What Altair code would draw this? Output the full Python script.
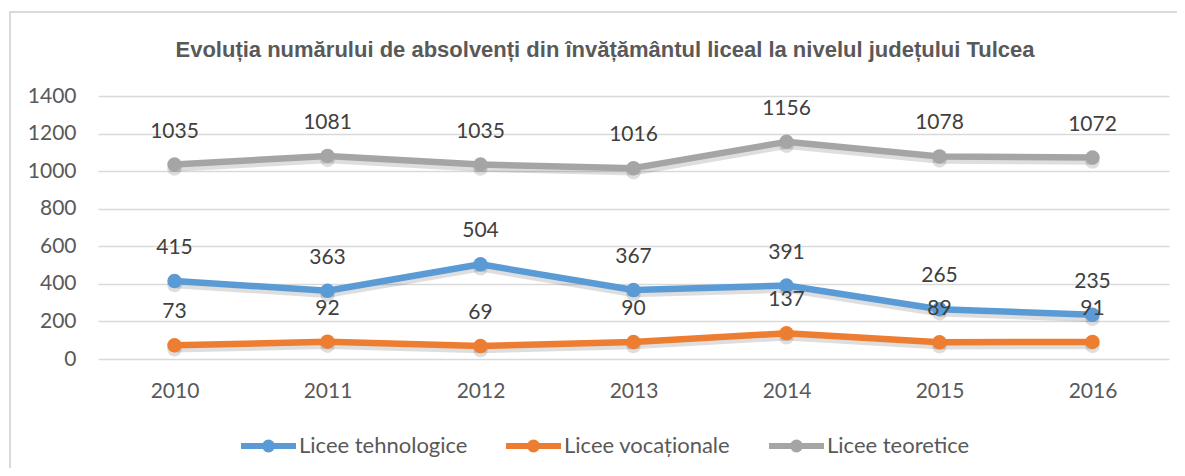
import altair as alt
import pandas as pd

years = ["2010", "2011", "2012", "2013", "2014", "2015", "2016"]
series = ["Licee tehnologice", "Licee vocaționale", "Licee teoretice"]
tehnologice = [415, 363, 504, 367, 391, 265, 235]
vocationale = [73, 92, 69, 90, 137, 89, 91]
teoretice = [1035, 1081, 1035, 1016, 1156, 1078, 1072]
colors = ["#5B9BD5", "#ED7D31", "#A5A5A5"]
title = "Evoluția numărului de absolvenți din învățământul liceal la nivelul județului Tulcea"

rows = []
for name, vals in zip(series, [tehnologice, vocationale, teoretice]):
    for y, v in zip(years, vals):
        rows.append({"an": y, "serie": name, "val": v})
df = pd.DataFrame(rows)
tdf = pd.DataFrame({"t": [title]})

FONT = "Lato"
GRAY = "#595959"

x_enc = alt.X("an:N", sort=years, title=None,
              scale=alt.Scale(type="point", padding=0.5),
              axis=alt.Axis(labelAngle=0, domain=False, ticks=False, grid=False,
                            labelFont=FONT, labelFontSize=21, labelColor=GRAY,
                            labelPadding=21))
y_enc = alt.Y("val:Q", title=None,
              scale=alt.Scale(domain=[0, 1400], nice=False),
              axis=alt.Axis(values=list(range(0, 1401, 200)), format="d",
                            domain=False, ticks=False,
                            grid=True, gridColor="#D9D9D9", gridWidth=1.3,
                            labelFont=FONT, labelFontSize=21, labelColor=GRAY,
                            labelPadding=22))

base = alt.Chart(df).encode(x=x_enc, y=y_enc)

r = 3.5 / 27.5
sym_path = (f"M-1,0 L1,0 M-{r:.3f},0 A{r:.3f},{r:.3f} 0 1,0 {r:.3f},0 "
            f"A{r:.3f},{r:.3f} 0 1,0 -{r:.3f},0")

shadow = base.mark_line(strokeWidth=6.5, color="#000000", opacity=0.13, yOffset=4,
                        strokeCap="round").encode(detail="serie:N")
shadow_pts = base.mark_circle(size=210, color="#000000", opacity=0.13, yOffset=4)

lines = base.mark_line(strokeWidth=6.5, strokeCap="round", strokeJoin="round").encode(
    color=alt.Color("serie:N", sort=series,
                    scale=alt.Scale(domain=series, range=colors),
                    legend=alt.Legend(title=None, orient="none", direction="horizontal",
                                      legendX=140, legendY=319.5,
                                      symbolType=sym_path, symbolSize=3025,
                                      symbolStrokeWidth=6, labelFont=FONT,
                                      labelFontSize=22, labelColor=GRAY,
                                      labelLimit=0, labelOffset=0,
                                      columnPadding=26, padding=0))
)
points = base.mark_circle(size=210, opacity=1).encode(
    fill=alt.Fill("serie:N", scale=alt.Scale(domain=series, range=colors), legend=None)
)
labels = base.mark_text(dy=-33, baseline="middle", font=FONT, fontSize=21,
                        color="#404040").encode(text="val:Q")

frame = alt.Chart(tdf).mark_rect(filled=False, stroke="#D9D9D9", strokeWidth=2).encode(
    x=alt.value(-88), x2=alt.value(1200), y=alt.value(-84), y2=alt.value(420))
ttl = alt.Chart(tdf).mark_text(font="Liberation Sans", fontWeight="bold", fontSize=22,
                               color=GRAY, align="center", baseline="alphabetic").encode(
    text="t:N", x=alt.value(507), y=alt.value(-39))

chart = alt.layer(frame, shadow, shadow_pts, lines, points, labels, ttl).resolve_scale(
    fill="independent"
).properties(
    width=1071, height=263,
    autosize=alt.AutoSizeParams(type="none"),
    padding={"left": 90, "top": 88, "right": 8, "bottom": 109},
).configure_view(stroke=None)

chart.save("out.html", embed_options={"renderer": "svg", "actions": False})
